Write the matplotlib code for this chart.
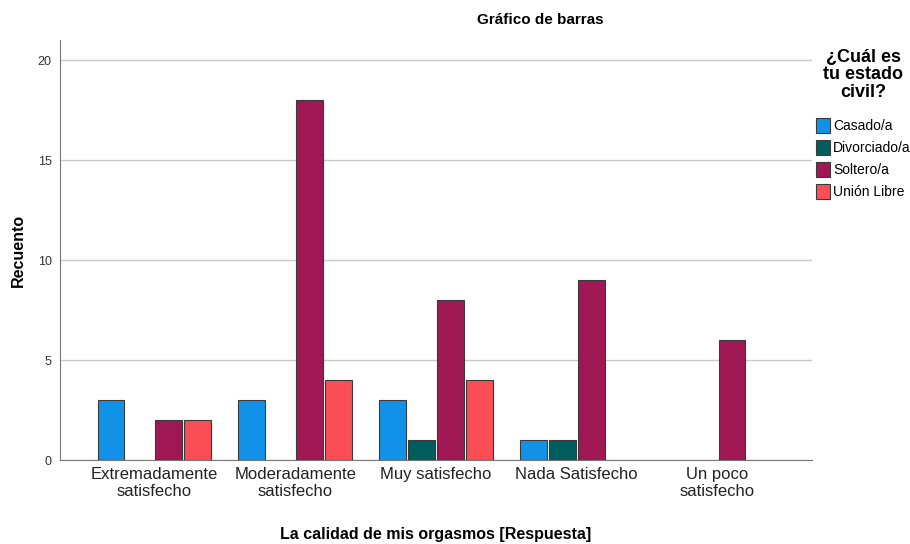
import numpy as np
import matplotlib.pyplot as plt

plt.rcParams['font.family'] = ['Liberation Sans', 'DejaVu Sans']

# datos
categorias = ["Extremadamente\nsatisfecho", "Moderadamente\nsatisfecho", "Muy satisfecho",
              "Nada Satisfecho", "Un poco\nsatisfecho"]
estados = ["Casado/a", "Divorciado/a", "Soltero/a", "Unión Libre"]
casado = [3, 3, 3, 1, 0]
divorciado = [0, 0, 1, 1, 0]
soltero = [2, 18, 8, 9, 6]
union_libre = [2, 4, 4, 0, 0]
colores = ["#1192e8", "#005d5d", "#9f1853", "#fa4d56"]

fig = plt.figure(figsize=(9.1, 5.44), dpi=100)
ax = fig.add_axes([0.066, 0.154, 0.826, 0.772])

x = np.arange(len(categorias))
paso = 0.206
ancho = 0.19
for i, (serie, nombre, c) in enumerate(zip([casado, divorciado, soltero, union_libre], estados, colores)):
    vals = np.array(serie, dtype=float)
    pos = x + (i - 1.5) * paso
    mask = vals > 0
    ax.bar(pos[mask], vals[mask], width=ancho, color=c, edgecolor="#3a3a3a",
           linewidth=0.8, label=nombre, zorder=3)

ax.set_xlim(-0.67, 4.67)
ax.set_ylim(0, 21)
ax.set_yticks([0, 5, 10, 15, 20])
ax.set_xticks(x)
ax.set_xticklabels(categorias, fontsize=12, color="#222222", linespacing=1.15)
ax.tick_params(axis="y", length=0, labelsize=9, colors="#333333", pad=6)
ax.tick_params(axis="x", length=0, pad=5)
ax.grid(axis="y", color="#c8c8c8", linewidth=1, zorder=0)
for s in ["top", "right"]:
    ax.spines[s].set_visible(False)
ax.spines["left"].set_color("#777777")
ax.spines["bottom"].set_color("#777777")

ax.set_ylabel("Recuento", fontsize=11.5, fontweight="bold")
ax.yaxis.set_label_coords(-0.045, 0.5)
ax.set_xlabel("La calidad de mis orgasmos [Respuesta]", fontsize=11.5, fontweight="bold")
ax.xaxis.set_label_coords(0.5, -0.16)
fig.text(540 / 910, 1 - 20 / 544, "Gráfico de barras", fontsize=11, fontweight="bold",
         ha="center", va="center")

leg = ax.legend(title="¿Cuál es\ntu estado\ncivil?", loc="upper left",
                bbox_to_anchor=(0.995, 1.0), frameon=False, fontsize=10,
                title_fontproperties={"weight": "bold", "size": 13},
                handlelength=1.0, handleheight=1.3, handletextpad=0.2,
                labelspacing=0.5, borderaxespad=0.2)
leg.get_title().set_multialignment("center")
leg.get_title().set_linespacing(1.05)
leg._legend_box.sep = 12

fig.savefig("out.png", dpi=100)
